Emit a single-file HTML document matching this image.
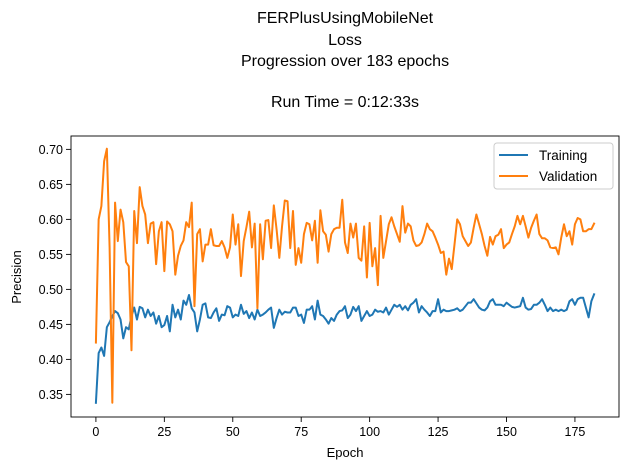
<!DOCTYPE html>
<html><head><meta charset="utf-8"><style>
html,body{margin:0;padding:0;background:#fff;}
svg text{font-family:"Liberation Sans","DejaVu Sans",sans-serif;fill:#000;}
</style></head><body>
<svg id="chart" width="630" height="470" viewBox="0 0 630 470" xmlns="http://www.w3.org/2000/svg">
<g font-size="16" text-anchor="middle">
<text x="345" y="23">FERPlusUsingMobileNet</text>
<text x="345" y="45">Loss</text>
<text x="345" y="66">Progression over 183 epochs</text>
<text x="345" y="107">Run Time = 0:12:33s</text>
</g>
<g id="plot"></g>
<text x="345" y="457" font-size="13" text-anchor="middle">Epoch</text>
<text transform="translate(21,277) rotate(-90)" font-size="13" text-anchor="middle">Precision</text>
<g>
<rect x="494" y="143" width="119" height="46" rx="3" fill="#fff" fill-opacity="0.8" stroke="#ccc"/>
<line x1="499" y1="155" x2="528" y2="155" stroke="#1f77b4" stroke-width="2"/>
<text x="539" y="160" font-size="13.5">Training</text>
<line x1="499" y1="176" x2="528" y2="176" stroke="#ff7f0e" stroke-width="2"/>
<text x="539" y="181" font-size="13.5">Validation</text>
</g>
</svg>
<script>
const xTicks=[0,25,50,75,100,125,150,175];
const yTicks=[0.35,0.40,0.45,0.50,0.55,0.60,0.65,0.70];
const yTickLabels=["0.35","0.40","0.45","0.50","0.55","0.60","0.65","0.70"];
const training=[0.338,0.409,0.417,0.405,0.446,0.453,0.462,0.469,0.466,0.457,0.430,0.446,0.443,0.462,0.474,0.457,0.475,0.473,0.460,0.471,0.462,0.467,0.451,0.462,0.446,0.449,0.462,0.440,0.478,0.460,0.471,0.457,0.484,0.478,0.492,0.473,0.467,0.440,0.457,0.478,0.480,0.460,0.459,
0.467,0.473,0.455,0.464,0.463,0.476,0.474,0.460,0.464,0.462,0.478,0.465,0.469,0.459,0.467,0.457,0.471,0.462,0.464,0.467,0.471,0.474,0.445,0.459,0.471,0.464,0.468,0.467,0.467,0.474,0.474,0.462,0.464,0.452,0.471,0.471,0.476,0.457,0.484,0.464,0.462,0.457,0.451,0.459,0.455,0.464,
0.469,0.470,0.476,0.459,0.464,0.475,0.469,0.476,0.455,0.462,0.469,0.462,0.464,0.471,0.468,0.469,0.467,0.474,0.464,0.471,0.478,0.475,0.478,0.471,0.476,0.470,0.478,0.481,0.486,0.467,0.476,0.471,0.467,0.462,0.469,0.469,0.486,0.467,0.471,0.469,0.469,0.470,0.471,0.473,
0.469,0.471,0.476,0.481,0.481,0.486,0.480,0.474,0.471,0.470,0.474,0.483,0.486,0.478,0.478,0.478,0.476,0.481,0.478,0.475,0.474,0.475,0.476,0.488,0.474,0.471,0.472,0.478,0.478,0.481,0.486,0.478,0.469,0.474,0.469,0.471,0.469,0.471,0.469,0.471,0.483,0.486,0.478,0.486,0.488,0.488,0.474,0.460,0.483,0.493];
const validation=[0.424,0.600,0.619,0.683,0.701,0.560,0.338,0.624,0.569,0.614,0.596,0.539,0.533,0.413,0.612,0.566,0.646,0.619,0.607,0.566,0.594,0.596,0.536,0.583,0.596,0.526,0.597,0.593,0.583,0.521,0.548,0.562,0.570,0.596,0.589,0.624,0.476,0.579,0.586,0.540,0.564,0.564,0.586,
0.563,0.562,0.562,0.569,0.560,0.545,0.560,0.607,0.564,0.593,0.519,0.569,0.589,0.611,0.560,0.594,0.473,0.593,0.543,0.598,0.599,0.559,0.620,0.586,0.545,0.590,0.627,0.626,0.559,0.612,0.535,0.559,0.538,0.579,0.595,0.593,0.570,0.598,0.538,0.613,0.583,0.578,0.554,0.579,0.586,0.588,
0.588,0.628,0.567,0.552,0.594,0.574,0.594,0.545,0.541,0.590,0.517,0.595,0.533,0.559,0.506,0.605,0.545,0.569,0.593,0.603,0.590,0.579,0.568,0.619,0.581,0.594,0.590,0.570,0.562,0.563,0.567,0.579,0.594,0.586,0.583,0.574,0.564,0.552,0.554,0.521,0.544,0.529,0.564,0.600,
0.593,0.576,0.569,0.562,0.567,0.588,0.607,0.593,0.579,0.562,0.548,0.575,0.564,0.576,0.578,0.586,0.559,0.564,0.567,0.579,0.590,0.605,0.593,0.605,0.590,0.574,0.588,0.598,0.607,0.579,0.573,0.573,0.570,0.560,0.559,0.560,0.550,0.574,0.593,0.576,0.583,0.564,0.593,0.602,0.600,0.583,0.583,0.586,0.586,0.594];

const L=71,R=619,T=136,B=417;
const xMin=-9.1,xMax=191.1,yMin=0.3177,yMax=0.7191;
function xs(v){return L+(v-xMin)/(xMax-xMin)*(R-L);}
function ys(v){return B-(v-yMin)/(yMax-yMin)*(B-T);}
const NS="http://www.w3.org/2000/svg";
const plot=document.getElementById('plot');
function mk(tag,attrs,parent){const e=document.createElementNS(NS,tag);for(const k in attrs)e.setAttribute(k,attrs[k]);(parent||plot).appendChild(e);return e;}

function series(data,color,name){
  const pts=data.map((v,i)=>xs(i).toFixed(2)+','+ys(v).toFixed(2)).join(' ');
  const p=mk('polyline',{points:pts,fill:'none',stroke:color,'stroke-width':'2','stroke-linejoin':'round','stroke-linecap':'square'});
  
  
}
series(training,'#1f77b4','training-line');
series(validation,'#ff7f0e','validation-line');

const frame=mk('rect',{x:L,y:T,width:R-L,height:B-T,fill:'none',stroke:'#000','stroke-width':'0.9'});



xTicks.forEach(t=>{
  const x=xs(t);
  const ln=mk('line',{x1:x,y1:B,x2:x,y2:B+5,stroke:'#000','stroke-width':'0.9'});
  
  
  const tx=mk('text',{x:x,y:B+19,'font-size':'12.5','text-anchor':'middle'});
  tx.textContent=String(t);
  
  
});
yTicks.forEach((t,i)=>{
  const y=ys(t);
  const ln=mk('line',{x1:L-5,y1:y,x2:L,y2:y,stroke:'#000','stroke-width':'0.9'});
  
  
  const tx=mk('text',{x:L-8,y:y+4.5,'font-size':'12.5','text-anchor':'end'});
  tx.textContent=yTickLabels[i];
  
  
});
</script>
</body></html>
